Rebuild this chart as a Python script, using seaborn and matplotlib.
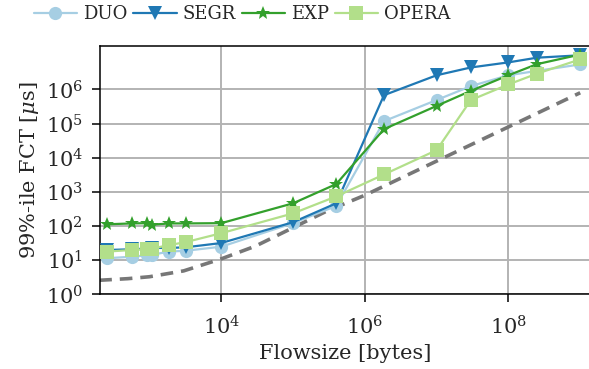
import numpy as np
import pandas as pd
import matplotlib
matplotlib.use("Agg")
import matplotlib.pyplot as plt
import seaborn as sns

# Flow sizes (bytes) shared by all schemes
sizes = [255, 570, 920, 1080, 1900, 3200, 1e4, 1e5, 4e5, 1.85e6, 1e7, 3e7, 1e8, 2.5e8, 1e9]

# 99th percentile flow completion time (microseconds) per scheme
duo = [11.5, 12.7, 14, 14.5, 18, 19, 25, 122, 390, 1.18e5, 4.9e5, 1.25e6, 2.6e6, 3.5e6, 5.4e6]
segr = [20, 21, 22, 23, 23, 24, 32, 130, 465, 6.8e5, 2.6e6, 4.4e6, 6.2e6, 8.5e6, 1.0e7]
exp = [113, 120, 122, 110, 120, 120, 122, 465, 1700, 6.9e4, 3.3e5, 9.1e5, 2.6e6, 5.5e6, 1.05e7]
opera = [18, 20, 21, 22, 28, 34, 62, 236, 740, 3250, 1.67e4, 4.9e5, 1.4e6, 2.9e6, 7.6e6]

# Ideal completion time reference curve
ideal_sizes = [200, 500, 1e3, 3e3, 1e4, 3e4, 1e5, 3e5, 1e6, 1e7, 1e8, 1e9]
ideal_fct = [2.6, 2.9, 3.3, 4.9, 11, 26, 90, 280, 800, 8000, 8e4, 8e5]

schemes = ["DUO", "SEGR", "EXP", "OPERA"]
colors = {"DUO": "#a6cee3", "SEGR": "#1f78b4", "EXP": "#33a02c", "OPERA": "#b2df8a"}
markers = {"DUO": "o", "SEGR": "v", "EXP": "*", "OPERA": "s"}
msizes = {"DUO": 9.5, "SEGR": 10, "EXP": 10.5, "OPERA": 9.5}

df = pd.DataFrame({
    "size": sizes * 4,
    "fct": duo + segr + exp + opera,
    "scheme": np.repeat(schemes, len(sizes)),
})
ideal = pd.DataFrame({"size": ideal_sizes, "fct": ideal_fct})

sns.set_theme(style="ticks")
plt.rcParams["font.family"] = ["DejaVu Serif"]
plt.rcParams["mathtext.fontset"] = "dejavuserif"

fig = plt.figure(figsize=(5.89, 3.69), dpi=100)
ax = fig.add_axes([0.169, 0.202, 0.835, 0.674])

sns.lineplot(data=ideal, x="size", y="fct", ax=ax, color="#777777",
             lw=2.6, linestyle=(0, (3.5, 2.2)), zorder=2, legend=False)

for s in schemes:
    sub = df[df["scheme"] == s]
    sns.lineplot(data=sub, x="size", y="fct", ax=ax, color=colors[s],
                 marker=markers[s], markersize=msizes[s], markeredgewidth=0,
                 lw=1.6, label=s, zorder=3)

ax.set_xscale("log")
ax.set_yscale("log")
ax.set_xlim(202, 1.43e9)
ax.set_ylim(1, 1.9e7)
ax.set_xticks([1e4, 1e6, 1e8])
ax.set_yticks([1e0, 1e1, 1e2, 1e3, 1e4, 1e5, 1e6])
ax.minorticks_off()
ax.grid(True, color="#b3b3b3", lw=1.4, zorder=0)
ax.set_axisbelow(True)

for sp in ax.spines.values():
    sp.set_color("black")
    sp.set_linewidth(1.1)

ax.tick_params(axis="both", which="major", labelsize=15, length=6, width=1.1,
               color="black", direction="out")
ax.tick_params(axis="x", pad=9)
ax.tick_params(axis="y", pad=6)
ax.set_xlabel("Flowsize [bytes]", fontsize=15, labelpad=4)
ax.set_ylabel(r"99%-ile FCT [$\mu$s]", fontsize=15, labelpad=3)

leg = ax.legend(loc="center", bbox_to_anchor=(0.29, 1.127), ncol=4,
                frameon=False, fontsize=13, handlelength=2.4,
                handletextpad=0.35, columnspacing=0.3, borderaxespad=0)

fig.savefig("out.png", dpi=100)
